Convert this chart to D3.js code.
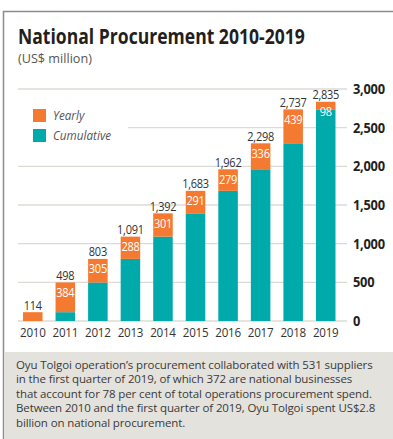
<!DOCTYPE html>
<html>
<head>
<meta charset="utf-8">
<script src="https://cdn.jsdelivr.net/npm/d3@7"></script>
<style>
  html, body { margin: 0; padding: 0; background: #fff; }
  svg { display: block; }
  text { font-family: "Open Sans", "Noto Sans", sans-serif; }
</style>
</head>
<body>
<svg id="chart" width="393" height="439"></svg>
<script>
// National procurement, US$ million
const years = ["2010", "2011", "2012", "2013", "2014", "2015", "2016", "2017", "2018", "2019"];
const yearly = [114, 384, 305, 288, 301, 291, 279, 336, 439, 98];
const totals = [114, 498, 803, 1091, 1392, 1683, 1962, 2298, 2737, 2835];
const cumulativeBefore = [0, 114, 498, 803, 1091, 1392, 1683, 1962, 2298, 2737];
const yTicks = [0, 500, 1000, 1500, 2000, 2500, 3000];
const legendLabels = ["Yearly", "Cumulative"];
const noteLines = [
  "Oyu Tolgoi operation\u2019s procurement collaborated with 531 suppliers",
  "in the first quarter of 2019, of which 372 are national businesses",
  "that account for 78 per cent of total operations procurement spend.",
  "Between 2010 and the first quarter of 2019, Oyu Tolgoi spent US$2.8",
  "billion on national procurement."
];

const ORANGE = "#f47a32";
const TEAL = "#00a9aa";
const GRID = "#dedbd4";

const svg = d3.select("#chart");
const fmt = d3.format(",");

// squeeze a text horizontally around its anchor point
function squeeze(sel, sx) {
  sel.each(function () {
    const t = d3.select(this);
    const x0 = +t.attr("x") || 0;
    t.attr("transform", `translate(${x0},0) scale(${sx},1) translate(${-x0},0)`);
  });
}
// squeeze a text so that it spans the given width
function fitWidth(sel, w) {
  sel.each(function () {
    const len = this.getComputedTextLength();
    if (len > 0) squeeze(d3.select(this), w / len);
  });
}

// frame
svg.append("path")
  .attr("d", "M3.5,439 L3.5,11.5 L393,11.5")
  .attr("fill", "none").attr("stroke", "#8c8c8c").attr("stroke-width", 1.5);

// title
svg.append("text").attr("x", 18).attr("y", 44)
  .attr("font-size", 20.5).attr("font-weight", 700).attr("fill", "#231f20")
  .text("National Procurement 2010-2019")
  .call(fitWidth, 287);
svg.append("text").attr("x", 18).attr("y", 63)
  .attr("font-size", 12.5).attr("fill", "#555")
  .text("(US$ million)")
  .call(fitWidth, 74);

const x = d3.scaleBand().domain(years).range([16.5, 342]).paddingInner(0.4).paddingOuter(0.2);
const y = d3.scaleLinear().domain([0, 3000]).range([321, 89]);

// gridlines
svg.append("g").selectAll("line").data(yTicks).join("line")
  .attr("x1", 18).attr("x2", 347)
  .attr("y1", d => y(d)).attr("y2", d => y(d))
  .attr("stroke", GRID).attr("stroke-width", 1.3);

// right axis labels
const yAxis = d3.axisRight(y).tickValues(yTicks).tickFormat(fmt).tickSize(0).tickPadding(0);
const gy = svg.append("g").attr("transform", "translate(353,0)").call(yAxis);
gy.select(".domain").remove();
gy.selectAll("text")
  .attr("font-family", "\"Open Sans\", sans-serif")
  .attr("font-size", 14).attr("font-weight", 700).attr("fill", "#231f20")
  .attr("letter-spacing", -0.3)
  .call(squeeze, 0.92);

// legend (white panel interrupts the gridline behind it)
const legend = svg.append("g");
legend.append("rect").attr("x", 18).attr("y", 100).attr("width", 110).attr("height", 48).attr("fill", "#fff");
legendLabels.forEach((lab, i) => {
  legend.append("rect").attr("x", 33).attr("y", 109 + i * 20).attr("width", 13).attr("height", 13)
    .attr("fill", i === 0 ? ORANGE : TEAL);
  legend.append("text").attr("x", 53).attr("y", 120 + i * 20)
    .attr("font-size", 13).attr("font-style", "italic").attr("fill", "#555")
    .text(lab)
    .call(squeeze, 0.9);
});

// bars
const bars = svg.append("g");
bars.selectAll("rect.cum").data(years).join("rect").attr("class", "cum")
  .attr("x", d => x(d)).attr("width", x.bandwidth())
  .attr("y", (d, i) => y(cumulativeBefore[i]))
  .attr("height", (d, i) => y(0) - y(cumulativeBefore[i]))
  .attr("fill", TEAL);
bars.selectAll("rect.yr").data(years).join("rect").attr("class", "yr")
  .attr("x", d => x(d)).attr("width", x.bandwidth())
  .attr("y", (d, i) => y(totals[i]))
  .attr("height", (d, i) => y(cumulativeBefore[i]) - y(totals[i]))
  .attr("fill", ORANGE);

// total labels
svg.append("g").selectAll("text").data(years).join("text")
  .attr("x", d => x(d) + x.bandwidth() / 2)
  .attr("y", (d, i) => y(totals[i]) - 2.5)
  .attr("text-anchor", "middle").attr("font-size", 12.5).attr("fill", "#333")
  .attr("letter-spacing", -0.3)
  .text((d, i) => fmt(totals[i]))
  .call(squeeze, 0.88);

// yearly labels inside orange segment (2010 has only its total)
svg.append("g").selectAll("text").data(years.slice(1)).join("text")
  .attr("x", d => x(d) + x.bandwidth() / 2)
  .attr("y", (d, i) => y(totals[i + 1]) + 14.5)
  .attr("text-anchor", "middle").attr("font-size", 12.5).attr("fill", "#fff")
  .attr("letter-spacing", -0.3)
  .text((d, i) => yearly[i + 1])
  .call(squeeze, 0.88);

// x axis labels
const xAxis = d3.axisBottom(x).tickSize(0).tickPadding(0);
const gx = svg.append("g").attr("transform", "translate(0,327)").call(xAxis);
gx.select(".domain").remove();
gx.selectAll("text")
  .attr("font-family", "\"Open Sans\", sans-serif")
  .attr("font-size", 13.5).attr("fill", "#333").attr("letter-spacing", -0.3)
  .call(squeeze, 0.86);

// note panel
svg.append("rect").attr("x", 4.25).attr("y", 352).attr("width", 389).attr("height", 87).attr("fill", "#e4e2dd");
svg.append("g").selectAll("text").data(noteLines).join("text")
  .attr("x", 16).attr("y", (d, i) => 369 + i * 14.4)
  .attr("font-size", 11.5).attr("fill", "#3a3a3a").attr("letter-spacing", -0.12)
  .text(d => d);
</script>
</body>
</html>
